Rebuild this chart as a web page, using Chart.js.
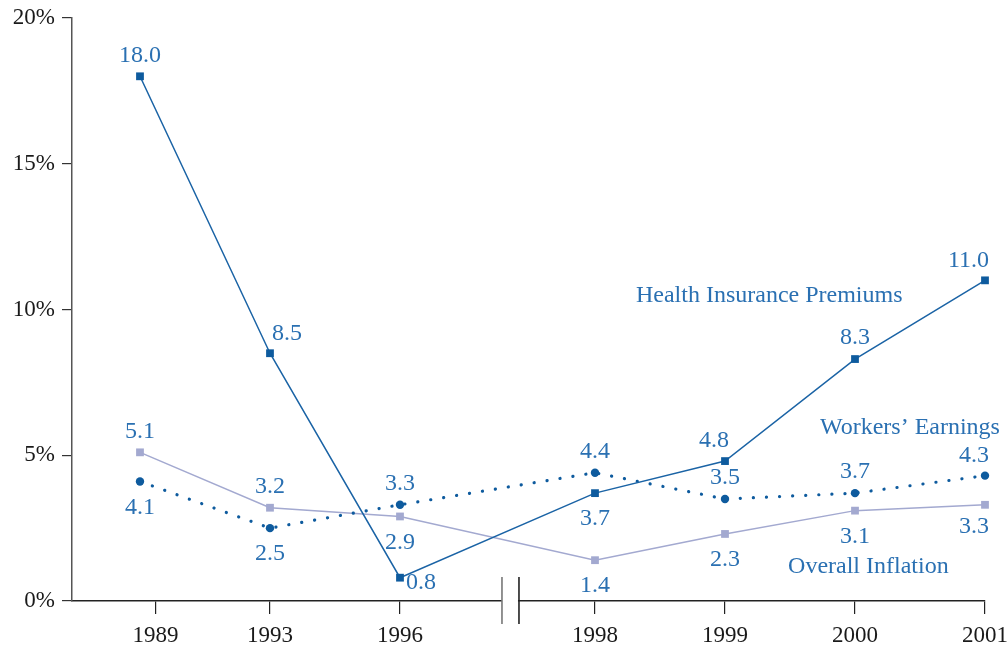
<!DOCTYPE html>
<html>
<head>
<meta charset="utf-8">
<script src="https://cdn.jsdelivr.net/npm/chart.js@4/dist/chart.umd.min.js"></script>
<style>
  html, body { margin: 0; padding: 0; background: #fff; }
  #wrap { width: 1007px; height: 646px; position: relative; }
</style>
</head>
<body>
<div id="wrap"><canvas id="chart"></canvas></div>
<script>
// datos
const years     = ["1989", "1993", "1996", "1998", "1999", "2000", "2001"];
const pointPos  = [0, 1, 2, 3.5, 4.5, 5.5, 6.5];      // posicion de cada año en el eje (hay corte entre 1996 y 1998)
const tickPos   = [0.12, 1, 2, 3.5, 4.5, 5.5, 6.5];
const healthPremiums  = [18.0, 8.5, 0.8, 3.7, 4.8, 8.3, 11.0];
const workersEarnings = [4.1, 2.5, 3.3, 4.4, 3.5, 3.7, 4.3];
const overallInflation = [5.1, 3.2, 2.9, 1.4, 2.3, 3.1, 3.3];
const yTicks = [0, 5, 10, 15, 20];

// donde va cada etiqueta numerica
const placeHealth    = ["up", "upR", "right", "down", "upL", "up", "upL"];
const placeWorkers   = ["down", "down", "up", "up", "up", "up", "upL"];
const placeInflation = ["up", "up", "down", "down", "down", "down", "downL"];

const SERIF = "'Liberation Serif', 'DejaVu Serif', serif";
const LABEL_BLUE = "#2a70b2";
const DARK_BLUE = "#0e5b9e";
const LILAC = "#a3a9d0";

const toPts = (vals) => vals.map((v, i) => ({ x: pointPos[i], y: v }));

const labelsPlugin = {
  id: "valueLabels",
  afterDatasetsDraw(chart) {
    const ctx = chart.ctx;
    ctx.save();
    ctx.font = `24px ${SERIF}`;
    ctx.fillStyle = LABEL_BLUE;
    ctx.textBaseline = "middle";
    chart.data.datasets.forEach((ds, di) => {
      const meta = chart.getDatasetMeta(di);
      meta.data.forEach((el, i) => {
        const p = ds.place[i];
        const txt = ds.data[i].y.toFixed(1);
        let x = el.x, y = el.y, align = "center";
        if (p === "up")    { y -= 21; }
        if (p === "down")  { y += 26; }
        if (p === "upR")   { y -= 20; x += 2; align = "left"; }
        if (p === "upL")   { y -= 20; x += 4; align = "right"; }
        if (p === "downL") { y += 22; x += 4; align = "right"; }
        if (p === "right") { y += 5; x += 6; align = "left"; }
        ctx.textAlign = align;
        ctx.fillText(txt, x, y);
      });
    });

    // nombres de las series
    const xs = chart.scales.x, ys = chart.scales.y;
    ctx.textAlign = "left";
    ctx.fillText("Health Insurance Premiums", xs.getPixelForValue(3.815), ys.getPixelForValue(10.46));
    ctx.fillText("Overall Inflation", xs.getPixelForValue(4.985), ys.getPixelForValue(1.17));
    ctx.textAlign = "right";
    ctx.fillText("Workers\u2019 Earnings", xs.getPixelForValue(6.615), ys.getPixelForValue(5.93));
    ctx.restore();
  }
};

// corte del eje x entre 1996 y 1998
const breakPlugin = {
  id: "axisBreak",
  afterDraw(chart) {
    const ctx = chart.ctx;
    const xs = chart.scales.x;
    const cx = xs.getPixelForValue(2.846);
    const yb = chart.chartArea.bottom;
    ctx.save();
    ctx.fillStyle = "#fff";
    ctx.fillRect(cx - 8, yb - 2, 16, 4);
    ctx.lineWidth = 1.6;
    ctx.strokeStyle = "#777";
    ctx.beginPath(); ctx.moveTo(cx - 8, yb - 24); ctx.lineTo(cx - 8, yb + 23); ctx.stroke();
    ctx.strokeStyle = "#222";
    ctx.beginPath(); ctx.moveTo(cx + 9, yb - 24); ctx.lineTo(cx + 9, yb + 23); ctx.stroke();
    ctx.restore();
  }
};

new Chart(document.getElementById("chart"), {
  type: "line",
  data: {
    datasets: [
      {
        label: "Health Insurance Premiums",
        data: toPts(healthPremiums),
        place: placeHealth,
        borderColor: "#1a63a5",
        borderWidth: 1.5,
        pointStyle: "rect",
        pointRadius: 5.5,
        pointBackgroundColor: DARK_BLUE,
        pointBorderWidth: 0,
        tension: 0,
        clip: false
      },
      {
        label: "Workers' Earnings",
        data: toPts(workersEarnings),
        place: placeWorkers,
        borderColor: DARK_BLUE,
        borderWidth: 3.2,
        borderDash: [0.1, 13],
        borderCapStyle: "round",
        pointStyle: "circle",
        pointRadius: 4.2,
        pointBackgroundColor: DARK_BLUE,
        pointBorderWidth: 0,
        tension: 0,
        clip: false
      },
      {
        label: "Overall Inflation",
        data: toPts(overallInflation),
        place: placeInflation,
        borderColor: LILAC,
        borderWidth: 1.5,
        pointStyle: "rect",
        pointRadius: 5.5,
        pointBackgroundColor: LILAC,
        pointBorderWidth: 0,
        tension: 0,
        clip: false
      }
    ]
  },
  options: {
    responsive: true,
    maintainAspectRatio: false,
    animation: false,
    layout: { padding: { left: 0, right: 22, top: 18, bottom: 0 } },
    plugins: { legend: { display: false }, tooltip: { enabled: false } },
    scales: {
      x: {
        type: "linear",
        min: -0.523,
        max: 6.5,
        afterBuildTicks: (s) => { s.ticks = tickPos.map(v => ({ value: v })); },
        afterFit: (s) => { s.height = 45; s.paddingLeft = 0; s.paddingRight = 0; },
        ticks: {
          autoSkip: false,
          maxRotation: 0,
          padding: 8,
          color: "#1a1a1a",
          font: { family: SERIF, size: 23 },
          callback: (v, i) => years[i]
        },
        grid: { drawOnChartArea: false, drawTicks: true, tickLength: 13, color: "#222", lineWidth: 1.2 },
        border: { display: true, color: "#222", width: 1.5 }
      },
      y: {
        min: 0,
        max: 20,
        afterBuildTicks: (s) => { s.ticks = yTicks.map(v => ({ value: v })); },
        afterFit: (s) => { s.width = 72; s.paddingTop = 0; s.paddingBottom = 0; },
        ticks: {
          padding: 7,
          color: "#1a1a1a",
          font: { family: SERIF, size: 23 },
          callback: (v) => v + "%"
        },
        grid: { drawOnChartArea: false, drawTicks: true, tickLength: 10, color: "#333", lineWidth: 1.2 },
        border: { display: true, color: "#555", width: 1.5 }
      }
    }
  },
  plugins: [labelsPlugin, breakPlugin]
});
</script>
</body>
</html>
